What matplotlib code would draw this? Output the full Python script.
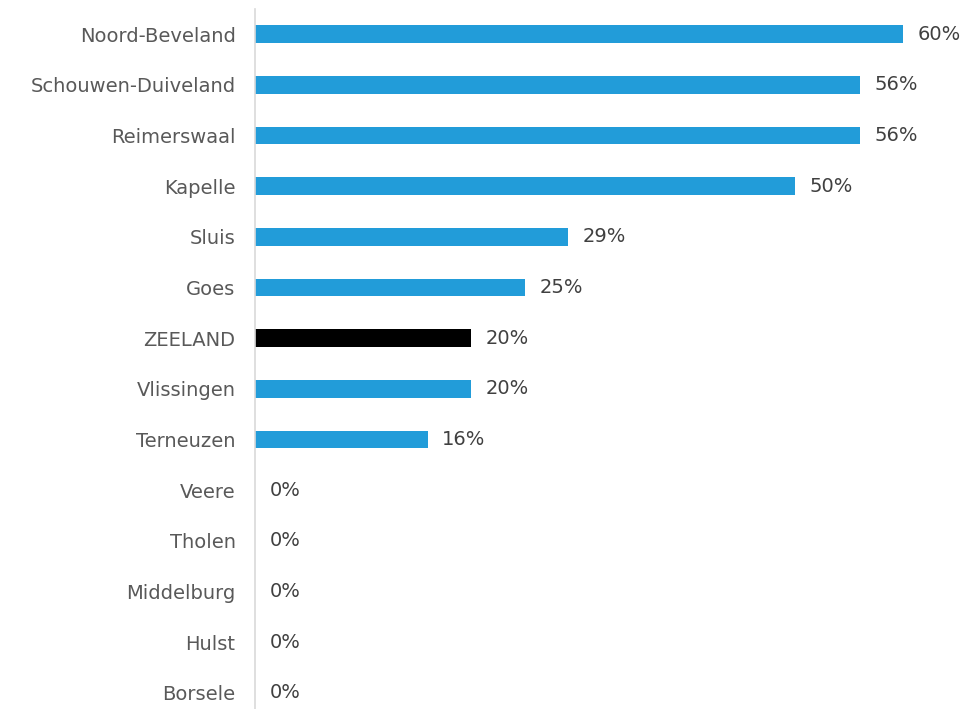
import matplotlib
matplotlib.use("Agg")
import matplotlib.pyplot as plt

categories = ["Noord-Beveland", "Schouwen-Duiveland", "Reimerswaal", "Kapelle", "Sluis",
              "Goes", "ZEELAND", "Vlissingen", "Terneuzen", "Veere", "Tholen",
              "Middelburg", "Hulst", "Borsele"]
values = [60, 56, 56, 50, 29, 25, 20, 20, 16, 0, 0, 0, 0, 0]
labels = ["60%", "56%", "56%", "50%", "29%", "25%", "20%", "20%", "16%",
          "0%", "0%", "0%", "0%", "0%"]

BLUE = "#229cd9"
colors = ["#000000" if c == "ZEELAND" else BLUE for c in categories]

W, H = 972, 709
fig = plt.figure(figsize=(W / 100, H / 100), dpi=100)
row = 50.69
top_px = 34 - 0.5 * row
bot_px = 693 + 0.5 * row
left_px = 255
ax = fig.add_axes([left_px / W, (H - bot_px) / H, (W - left_px) / W, (bot_px - top_px) / H])

y = list(range(len(categories)))
ax.barh(y, values, height=0.35, color=colors)
ax.set_ylim(len(categories) - 0.5, -0.5)
ax.set_xlim(0, (W - left_px) / 10.8)

for yi, v, lab in zip(y, values, labels):
    ax.annotate(lab, xy=(v, yi), xytext=(10.3, 0), textcoords="offset points",
                ha="left", va="center", fontsize=14, color="#404040")

ax.set_yticks(y)
ax.set_yticklabels(categories, fontsize=14, color="#595959")
ax.tick_params(axis="y", length=0, pad=14)
ax.set_xticks([])
for s in ["top", "right", "bottom"]:
    ax.spines[s].set_visible(False)
ax.spines["left"].set_color("#d9d9d9")
ax.spines["left"].set_linewidth(1.2)

fig.savefig("out.png", dpi=100)
